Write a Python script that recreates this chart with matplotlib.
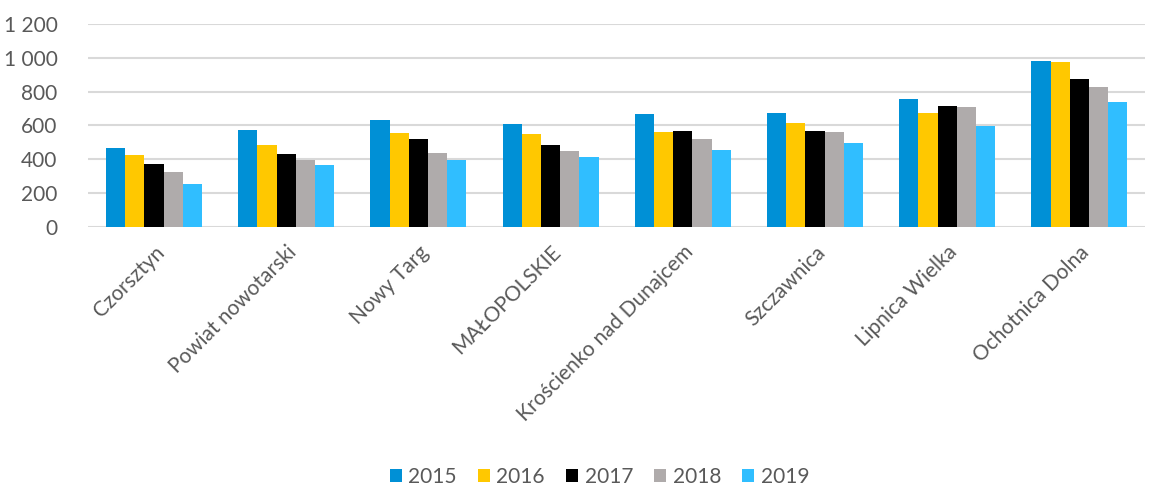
import matplotlib.pyplot as plt
import numpy as np
from matplotlib.ticker import FuncFormatter

categories = ["Czorsztyn", "Powiat nowotarski", "Nowy Targ", "MAŁOPOLSKIE",
              "Krościenko nad Dunajcem", "Szczawnica", "Lipnica Wielka", "Ochotnica Dolna"]
years = ["2015", "2016", "2017", "2018", "2019"]
v2015 = [468, 576, 631, 610, 670, 672, 759, 982]
v2016 = [423, 484, 553, 547, 561, 613, 676, 976]
v2017 = [372, 429, 518, 484, 566, 570, 715, 874]
v2018 = [327, 398, 437, 447, 519, 559, 710, 829]
v2019 = [256, 365, 398, 412, 453, 494, 598, 741]
series = [v2015, v2016, v2017, v2018, v2019]
colors = ["#0090D6", "#FFC800", "#000000", "#AFABAB", "#30BEFF"]

plt.rcParams["font.family"] = ["Lato", "DejaVu Sans"]

fig = plt.figure(figsize=(11.57, 4.92), dpi=100)
ax = fig.add_axes([0.076, 0.539, 0.914, 0.412])

x = np.arange(len(categories))
width = 0.145
for i, (vals, col, yr) in enumerate(zip(series, colors, years)):
    ax.bar(x + (i - 2) * width, vals, width, color=col, label=yr, zorder=3)

ax.set_xlim(-0.5, len(categories) - 0.5)
ax.set_ylim(0, 1200)
ax.set_yticks(range(0, 1201, 200))
ax.yaxis.set_major_formatter(FuncFormatter(lambda v, p: f"{int(v):,}".replace(",", " ")))
ax.grid(axis="y", color="#D9D9D9", linewidth=1.5, zorder=0)
for s in ax.spines.values():
    s.set_visible(False)
ax.tick_params(axis="both", length=0, labelsize=15, colors="#595959", pad=22)
ax.tick_params(axis="x", pad=11)
ax.set_xticks(x)
ax.set_xticklabels(categories, rotation=45, ha="right", rotation_mode="anchor")

fig.legend(loc="lower center", ncol=5, bbox_to_anchor=(0.518, -0.028), frameon=False,
           fontsize=15, handlelength=0.6, handleheight=0.6, handletextpad=0.3,
           columnspacing=1.0, labelcolor="#595959")

fig.savefig("out.png", dpi=100)
